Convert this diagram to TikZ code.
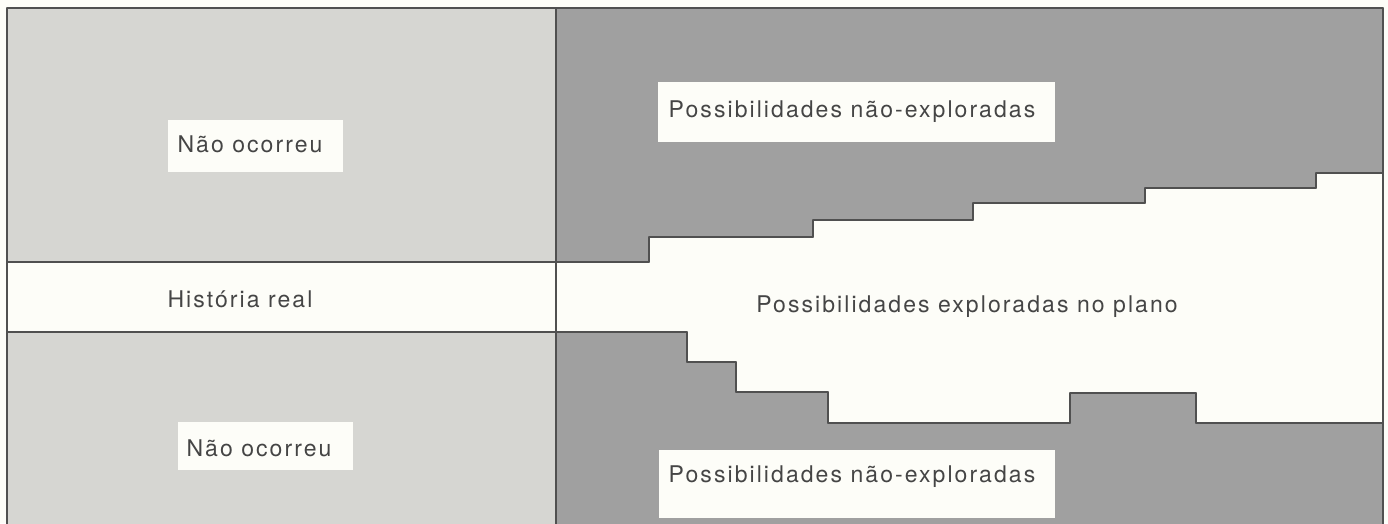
\documentclass[tikz,border=0pt]{standalone}
\usepackage{fontspec}
\setmainfont{TeX Gyre Heros}[LetterSpace=9]
\usepackage{tikz}
\definecolor{paper}{HTML}{FDFDF8}
\definecolor{lightdot}{HTML}{D6D6D2}
\definecolor{darkdot}{HTML}{A0A0A0}
\definecolor{ink}{HTML}{505050}
\definecolor{txt}{HTML}{454545}

\begin{document}
\begin{tikzpicture}[line cap=round,line join=round,x=1pt,y=-1pt,
  rule/.style={draw=ink,line width=1.4pt},
  lbl/.style={text=txt,font=\fontsize{23}{27}\selectfont,inner sep=0pt,anchor=base}]
\useasboundingbox (0,0) rectangle (1388,523);
\clip (0,0) rectangle (1388,523);
\fill[paper] (0,0) rectangle (1388,523);
% light grey: what did not happen
\fill[lightdot] (7,8) rectangle (556,262);
\fill[lightdot] (7,332) rectangle (556,530);
% dark grey: the possibilities left out
\fill[darkdot] (556,8) -- (1383,8) -- (1383,173) -- (1316,173) -- (1316,188) -- (1145,188) -- (1145,203) -- (973,203) -- (973,220) -- (813,220) -- (813,237) -- (649,237) -- (649,262) -- (556,262) -- cycle;
\fill[darkdot] (556,332) -- (687,332) -- (687,362) -- (736,362) -- (736,392) -- (828,392) -- (828,423) -- (1070,423) -- (1070,393) -- (1196,393) -- (1196,423) -- (1383,423) -- (1383,530) -- (556,530) -- cycle;
% frame
\draw[rule] (7,530)-- (7,8);
\draw[rule] (7,8)-- (1383,8);
\draw[rule] (1383,8)-- (1383,530);
\draw[rule] (556,8)-- (556,530);
\draw[rule] (7,262)-- (556,262);
\draw[rule] (7,332)-- (556,332);
% upper steps
\draw[rule] (556,262)-- (649,262);
\draw[rule] (649,262)-- (649,237);
\draw[rule] (649,237)-- (813,237);
\draw[rule] (813,237)-- (813,220);
\draw[rule] (813,220)-- (973,220);
\draw[rule] (973,220)-- (973,203);
\draw[rule] (973,203)-- (1145,203);
\draw[rule] (1145,203)-- (1145,188);
\draw[rule] (1145,188)-- (1316,188);
\draw[rule] (1316,188)-- (1316,173);
\draw[rule] (1316,173)-- (1383,173);
% lower steps
\draw[rule] (556,332)-- (687,332);
\draw[rule] (687,332)-- (687,362);
\draw[rule] (687,362)-- (736,362);
\draw[rule] (736,362)-- (736,392);
\draw[rule] (736,392)-- (828,392);
\draw[rule] (828,392)-- (828,423);
\draw[rule] (828,423)-- (1070,423);
\draw[rule] (1070,423)-- (1070,393);
\draw[rule] (1070,393)-- (1196,393);
\draw[rule] (1196,393)-- (1196,423);
\draw[rule] (1196,423)-- (1383,423);
% label boxes
\fill[paper] (168,120) rectangle (343,172);
\fill[paper] (178,422) rectangle (353,470);
\fill[paper] (658,82) rectangle (1055,142);
\fill[paper] (659,450) rectangle (1055,518);
\node[lbl] (nao1) at (250,152) {Não ocorreu};
\node[lbl] (nao2) at (259,456) {Não ocorreu};
\node[lbl] (real) at (240,307) {História real};
\node[lbl] (plano) at (967,312) {Possibilidades exploradas no plano};
\node[lbl] (fora1) at (852,117) {Possibilidades não-exploradas};
\node[lbl] (fora2) at (852,482) {Possibilidades não-exploradas};
\end{tikzpicture}
\end{document}
